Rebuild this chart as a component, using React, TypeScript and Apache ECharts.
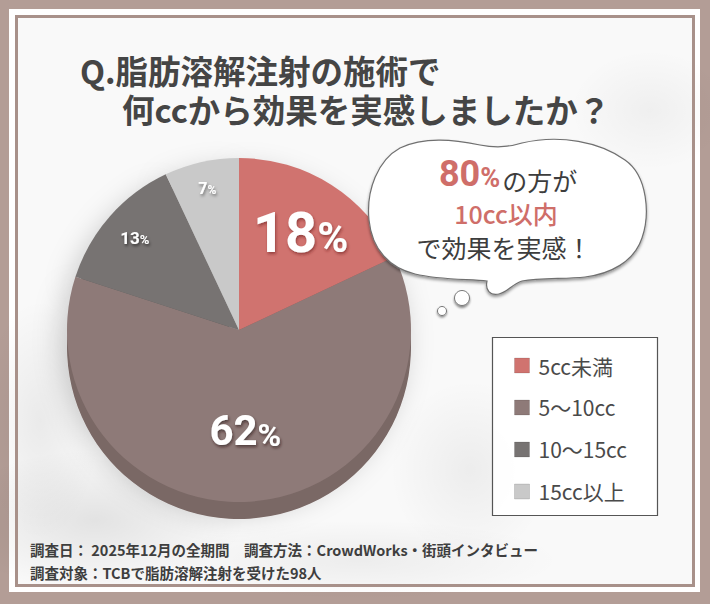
import { useEffect, useRef } from "react";
import * as echarts from "echarts";

const categories = ["5cc未満", "5〜10cc", "10〜15cc", "15cc以上"];
const shares = [18, 62, 13, 7];
const sliceColors = ["#d0736f", "#8e7a78", "#777372", "#c9c9c9"];
const rimColors = ["#b55f5b", "#7a6865", "#5f5b5a", "#a9a9a9"];
const titleLines = ["Q.脂肪溶解注射の施術で", "何ccから効果を実感しましたか？"];
const calloutLines = ["80", "%", "の方が", "10cc以内", "で効果を実感！"];
const footerLines = [
  "調査日： 2025年12月の全期間　調査方法：CrowdWorks・街頭インタビュー",
  "調査対象：TCBで脂肪溶解注射を受けた98人"
];

const center = [239, 330];
const radius = 172;
const jp = "'Noto Sans CJK JP', 'Noto Sans', sans-serif";

// where each percentage sits inside its slice (inner radius of the label ring) and its size
const labelLayout = [
  { inner: 52, value: 56, pct: 42, shadow: "rgba(110,35,35,0.6)" },
  { inner: 24, value: 42, pct: 32, shadow: "rgba(40,25,25,0.6)" },
  { inner: 100, value: 17, pct: 13, shadow: "rgba(0,0,0,0.55)" },
  { inner: 112, value: 16, pct: 12, shadow: "rgba(0,0,0,0.45)" }
];

const bubblePath =
  "M369 220 C366 190 378 160 400 148 C425 136 455 140 480 145 C495 148 510 147 522 143 " +
  "C560 134 600 142 625 160 C648 176 650 215 642 238 C634 262 610 274 585 277 " +
  "C565 279 540 278 522 281 C512 284 508 292 499 294 C490 296 485 290 487 281 " +
  "C470 279 440 280 415 274 C390 268 372 250 369 220 Z";

echarts.graphic.registerShape("bubble", echarts.graphic.extendPath(bubblePath, {}));

export default function App() {
  const ref = useRef<HTMLDivElement | null>(null);

  useEffect(() => {
    document.body.style.margin = "0";
    if (!ref.current) {
      return;
    }
    const chart = echarts.init(ref.current, undefined, { renderer: "svg" });
    chart.setOption(buildOption());
    return () => chart.dispose();
  }, []);

  return <div ref={ref} style={{ width: 710, height: 604 }} />;
}

function haze(cx: number, cy: number, rx: number, ry: number, alpha: number) {
  return {
    type: "ellipse",
    z: 0,
    silent: true,
    shape: { cx, cy, rx, ry },
    style: {
      fill: new echarts.graphic.RadialGradient(0.5, 0.5, 0.5, [
        { offset: 0, color: `rgba(0,0,0,${alpha})` },
        { offset: 1, color: "rgba(0,0,0,0)" }
      ])
    }
  };
}

function labelSeries(index: number) {
  const spec = labelLayout[index];
  const shadow = {
    textShadowColor: spec.shadow,
    textShadowBlur: 3,
    textShadowOffsetX: 1,
    textShadowOffsetY: 2
  };
  return {
    type: "pie",
    center,
    radius: [spec.inner, radius],
    startAngle: 90,
    silent: true,
    z: 4,
    itemStyle: { color: "transparent" },
    emphasis: { disabled: true },
    labelLine: { show: false },
    label: {
      position: "inside",
      formatter: (p: any) => `{v|${p.value}}{p|%}`,
      rich: {
        v: {
          fontSize: spec.value,
          lineHeight: spec.value,
          fontFamily: "Roboto",
          fontWeight: "bold",
          color: "#fff",
          verticalAlign: "bottom",
          ...shadow
        },
        p: {
          fontSize: spec.pct,
          lineHeight: spec.pct,
          fontFamily: "Roboto",
          fontWeight: "bold",
          color: "#fff",
          verticalAlign: "bottom",
          padding: [0, 0, Math.round(spec.value * 0.03), 0],
          ...shadow
        }
      }
    },
    data: categories.map((name, i) => ({
      name,
      value: shares[i],
      label: { show: i === index }
    }))
  };
}

function buildOption() {
  const pieData = (colors: string[]) =>
    categories.map((name, i) => ({ name, value: shares[i], itemStyle: { color: colors[i] } }));
  const titleFont = { fontFamily: jp, fontWeight: "bold", fontSize: 32.5, lineHeight: 39, fill: "#454545" };

  return {
    animation: false,
    backgroundColor: "#b39d96",
    legend: {
      orient: "vertical",
      left: 509,
      top: 350,
      z: 12,
      icon: "rect",
      itemWidth: 15,
      itemHeight: 15,
      itemGap: 21,
      selectedMode: false,
      data: categories,
      itemStyle: { borderColor: "rgba(0,0,0,0.12)", borderWidth: 1 },
      textStyle: {
        fontFamily: jp,
        fontSize: 21,
        lineHeight: 20,
        color: "#4a4a4a",
        padding: [0, 0, 0, 4]
      }
    },
    graphic: {
      elements: [
        { type: "rect", z: 0, silent: true, shape: { x: 9, y: 9, width: 691, height: 583 }, style: { fill: "#ffffff" } },
        { type: "rect", z: 0, silent: true, shape: { x: 18, y: 18, width: 674, height: 566 }, style: { fill: "#f9f9f9" } },
        haze(95, 520, 150, 70, 0.09),
        haze(40, 420, 60, 120, 0.06),
        haze(470, 470, 80, 90, 0.05),
        haze(650, 110, 80, 60, 0.04),
        haze(360, 560, 200, 40, 0.05),
        {
          type: "rect",
          z: 1,
          silent: true,
          shape: { x: 16.5, y: 16.5, width: 677, height: 569 },
          style: { fill: "none", stroke: "#a8918a", lineWidth: 3 }
        },
        {
          type: "text",
          z: 5,
          x: 80,
          y: 89,
          style: {
            text: `{a|${titleLines[0]}}\n{b|${titleLines[1]}}`,
            verticalAlign: "middle",
            rich: {
              a: { ...titleFont },
              b: { ...titleFont, padding: [0, 0, 0, 42] }
            }
          }
        },
        {
          type: "bubble",
          z: 20,
          x: 0,
          y: 0,
          style: {
            fill: "#ffffff",
            stroke: "#707070",
            lineWidth: 1.2,
            shadowBlur: 3,
            shadowOffsetY: 2,
            shadowColor: "rgba(0,0,0,0.4)"
          }
        },
        {
          type: "circle",
          z: 20,
          shape: { cx: 462, cy: 298, r: 7.5 },
          style: { fill: "#ffffff", stroke: "#777", lineWidth: 1, shadowBlur: 2, shadowOffsetY: 2, shadowColor: "rgba(0,0,0,0.45)" }
        },
        {
          type: "circle",
          z: 20,
          shape: { cx: 442, cy: 311, r: 4.5 },
          style: { fill: "#ffffff", stroke: "#777", lineWidth: 1, shadowBlur: 2, shadowOffsetY: 1.5, shadowColor: "rgba(0,0,0,0.45)" }
        },
        {
          type: "text",
          z: 21,
          x: 508,
          y: 176,
          style: {
            text: `{a|${calloutLines[0]}}{b|${calloutLines[1]}}{c|${calloutLines[2]}}`,
            align: "center",
            verticalAlign: "middle",
            rich: {
              a: { fontFamily: "Roboto", fontWeight: "bold", fontSize: 36, lineHeight: 32, fill: "#cf6e69", verticalAlign: "bottom" },
              b: { fontFamily: "Roboto", fontWeight: "bold", fontSize: 27, lineHeight: 26, fill: "#cf6e69", verticalAlign: "bottom", padding: [0, 2, 1, 0] },
              c: { fontFamily: jp, fontSize: 25, lineHeight: 28, fill: "#3d3d3d", verticalAlign: "bottom" }
            }
          }
        },
        {
          type: "text",
          z: 21,
          x: 506,
          y: 213,
          style: { text: calloutLines[3], font: `500 25px ${jp}`, fill: "#cf6e69", align: "center", verticalAlign: "middle", lineHeight: 26 }
        },
        {
          type: "text",
          z: 21,
          x: 504,
          y: 247,
          style: { text: calloutLines[4], font: `25px ${jp}`, fill: "#3d3d3d", align: "center", verticalAlign: "middle", lineHeight: 26 }
        },
        {
          type: "rect",
          z: 10,
          silent: true,
          shape: { x: 492.5, y: 337.5, width: 165, height: 178 },
          style: { fill: "rgba(255,255,255,0.92)", stroke: "#555", lineWidth: 1.2 }
        },
        {
          type: "text",
          z: 5,
          x: 30,
          y: 549,
          style: { text: footerLines[0], font: `bold 14.5px ${jp}`, fill: "#3e3e3e", verticalAlign: "middle", lineHeight: 16 }
        },
        {
          type: "text",
          z: 5,
          x: 30,
          y: 572,
          style: { text: footerLines[1], font: `bold 14.5px ${jp}`, fill: "#3e3e3e", verticalAlign: "middle", lineHeight: 16 }
        }
      ]
    },
    series: [
      {
        type: "pie",
        name: "face",
        center,
        radius: [0, radius],
        startAngle: 90,
        silent: true,
        z: 3,
        label: { show: false },
        labelLine: { show: false },
        emphasis: { disabled: true },
        data: pieData(sliceColors)
      },
      {
        type: "pie",
        name: "rim",
        center: [center[0], center[1] + 17],
        radius: [0, radius],
        startAngle: 90,
        silent: true,
        z: 2,
        label: { show: false },
        labelLine: { show: false },
        emphasis: { disabled: true },
        itemStyle: { shadowBlur: 28, shadowColor: "rgba(0,0,0,0.2)", shadowOffsetX: -6, shadowOffsetY: -6 },
        data: pieData(rimColors)
      },
      ...shares.map((_, i) => labelSeries(i))
    ]
  };
}
